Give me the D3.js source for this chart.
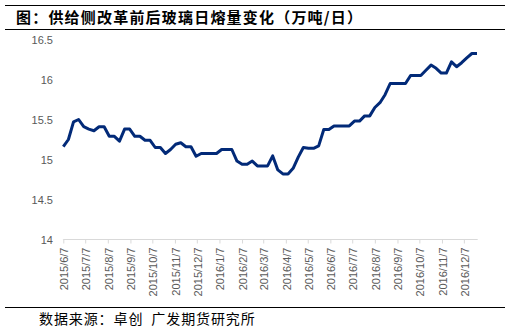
<!DOCTYPE html>
<html>
<head>
<meta charset="utf-8">
<script src="https://cdn.jsdelivr.net/npm/d3@7"></script>
<style>
  html, body { margin: 0; padding: 0; background: #fff; }
  svg { display: block; }
</style>
</head>
<body>
<svg id="chart" width="511" height="331"></svg>
<script>
// Weekly glass daily melt volume (10k tonnes/day), one reading per week from 2015-06-07
const startDate = "2015-06-07";
const meltValues = [
  15.16, 15.25, 15.47, 15.50, 15.41, 15.38, 15.36, 15.41, 15.41, 15.29,
  15.29, 15.23, 15.38, 15.38, 15.29, 15.29, 15.24, 15.24, 15.15, 15.15,
  15.075, 15.125, 15.19, 15.21, 15.16, 15.16, 15.04, 15.075, 15.075, 15.075,
  15.075, 15.125, 15.125, 15.125, 14.98, 14.94, 14.94, 14.98, 14.92, 14.92,
  14.92, 15.045, 14.87, 14.82, 14.82, 14.89, 15.03, 15.15, 15.14, 15.14,
  15.17, 15.375, 15.375, 15.42, 15.42, 15.42, 15.42, 15.48, 15.48, 15.545,
  15.545, 15.65, 15.71, 15.81, 15.95, 15.95, 15.95, 15.95, 16.05, 16.05,
  16.05, 16.115, 16.18, 16.14, 16.08, 16.08, 16.22, 16.16, 16.21, 16.27,
  16.325, 16.325
];
const yTicks = [14, 14.5, 15, 15.5, 16, 16.5];
const xTickLabels = [
  "2015/6/7", "2015/7/7", "2015/8/7", "2015/9/7", "2015/10/7", "2015/11/7",
  "2015/12/7", "2016/1/7", "2016/2/7", "2016/3/7", "2016/4/7", "2016/5/7",
  "2016/6/7", "2016/7/7", "2016/8/7", "2016/9/7", "2016/10/7", "2016/11/7",
  "2016/12/7"
];
const titleText = "图：供给侧改革前后玻璃日熔量变化（万吨/日）";
const sourceText = "数据来源：卓创  广发期货研究所";

const parse = d3.timeParse("%Y-%m-%d");
const parseTick = d3.timeParse("%Y/%-m/%-d");
const t0 = parse(startDate);
const series = meltValues.map((v, i) => ({ date: d3.timeDay.offset(t0, i * 7), value: v }));

const svg = d3.select("#chart");

const x = d3.scaleTime()
  .domain([t0, series[series.length - 1].date])
  .range([63.3, 477]);
const y = d3.scaleLinear().domain([14, 16.5]).range([239.5, 39.5]);

const grey = "#595959";
const font = "'Liberation Sans', Arial, sans-serif";
const cjk = "'Noto Sans CJK SC', sans-serif";

// header rules and title
svg.append("line").attr("x1", 5).attr("x2", 505).attr("y1", 5.5).attr("y2", 5.5)
  .attr("stroke", "#000").attr("stroke-width", 1.2);
svg.append("line").attr("x1", 5).attr("x2", 505).attr("y1", 29.5).attr("y2", 29.5)
  .attr("stroke", "#000").attr("stroke-width", 1.2);
svg.append("text").attr("x", 16).attr("y", 22.5)
  .attr("font-family", cjk).attr("font-size", 15).attr("font-weight", "bold")
  .attr("letter-spacing", 1.2)
  .attr("fill", "#000").text(titleText);

// y axis: labels only, no domain line
const yAxis = d3.axisLeft(y).tickValues(yTicks).tickSize(0).tickPadding(0)
  .tickFormat(d3.format("~g"));
const gy = svg.append("g").attr("transform", "translate(53,0)").call(yAxis);
gy.select(".domain").remove();
gy.selectAll("text").attr("font-family", font).attr("font-size", 11).attr("fill", grey)
  .attr("dy", "0.35em");

// x axis with monthly ticks and rotated labels
const xTickDates = xTickLabels.map(parseTick);
const xAxis = d3.axisBottom(x).tickValues(xTickDates).tickSize(4).tickPadding(0)
  .tickFormat(d3.timeFormat("%Y/%-m/%-d"));
const gx = svg.append("g").attr("transform", "translate(0,239.5)").call(xAxis);
gx.select(".domain").attr("d", `M${x.range()[0]},0.5V0H477.7V0`)
  .attr("stroke", "#d9d9d9").attr("stroke-width", 1);
gx.selectAll(".tick line").attr("stroke", "#d9d9d9");
gx.selectAll(".tick text")
  .attr("font-family", font).attr("font-size", 11).attr("fill", grey)
  .attr("text-anchor", "end")
  .attr("transform", "rotate(-90)")
  .attr("x", -8).attr("y", 0).attr("dy", "0.4em");

// series line
const line = d3.line().x(d => x(d.date)).y(d => y(d.value));
svg.append("path").datum(series)
  .attr("d", line)
  .attr("fill", "none")
  .attr("stroke", "#022a78")
  .attr("stroke-width", 3)
  .attr("stroke-linejoin", "round")
  .attr("stroke-linecap", "butt");

// footer rule and source
svg.append("line").attr("x1", 5).attr("x2", 505).attr("y1", 307.5).attr("y2", 307.5)
  .attr("stroke", "#000").attr("stroke-width", 1.2);
svg.append("text").attr("x", 39).attr("y", 324)
  .attr("font-family", cjk).attr("font-size", 14)
  .attr("letter-spacing", 0.9)
  .attr("fill", "#000").attr("xml:space", "preserve").style("white-space", "pre")
  .text(sourceText);
</script>
</body>
</html>
